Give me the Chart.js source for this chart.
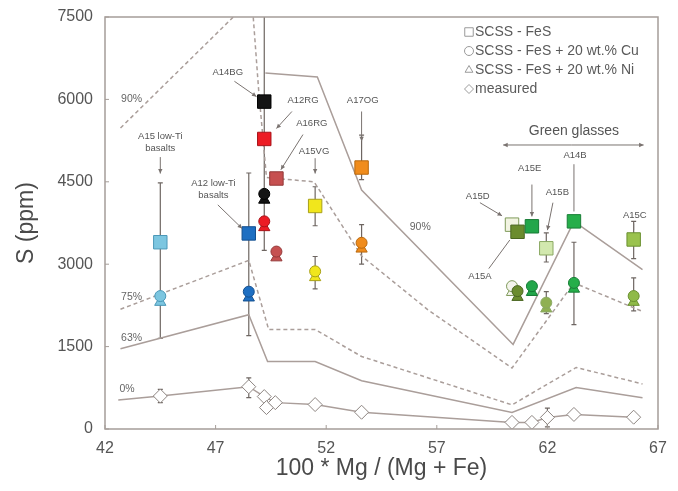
<!DOCTYPE html>
<html>
<head>
<meta charset="utf-8">
<script src="https://cdn.jsdelivr.net/npm/chart.js@4.4.1/dist/chart.umd.min.js"></script>
<style>
    html, body { margin: 0; padding: 0; background: #fff; }
</style>
</head>
<body>
<canvas id="sChart" width="678" height="491"></canvas>
<script>
// ============================================
// DATA
// ============================================
const sampleNames = ['A15 low-Ti basalts', 'A12 low-Ti basalts', 'A14BG', 'A12RG', 'A16RG', 'A15VG', 'A17OG', 'A15D', 'A15A', 'A15E', 'A15B', 'A14B', 'A15C']
const sampleMg = [44.5, 48.5, 49.2, 49.2, 49.75, 51.5, 53.6, 60.4, 60.65, 61.3, 61.95, 63.2, 65.9]
const scssFeS  = [3400, 3560, 5960, 5280, 4560, 4060, 4760, 3720, 3590, 3690, 3290, 3780, 3450]
const scssCu   = [2420, 2500, 4280, 3780, 3230, 2870, 3390, 2600, 2510, 2600, 2300, 2660, 2420]
const scssNi   = [2310, 2390, 4170, 3670, 3120, 2760, 3280, 2490, 2400, 2490, 2190, 2550, 2310]

const sqErrLo = [1650, 1700, 3250, null, null, 3700, 4540, null, null, null, 3040, null, 3100]
const sqErrHi = [4480, 4660, 8600, null, null, 4410, 5350, null, null, null, 3570, null, 3780]
const cuErrLo = [null, null, null, null, null, 2550, 3000, null, null, null, 2100, 1900, 2150]
const cuErrHi = [null, null, null, null, null, 3140, 3720, null, null, null, 2500, 3400, 2750]

const measMg    = [44.5, 48.5, 49.2, 49.3, 49.7, 51.5, 53.6, 60.4, 61.3, 62.0, 63.2, 65.9]
const measS     = [600, 770, 590, 390, 480, 445, 305, 120, 120, 210, 265, 215]
const measErrLo = [480, 570, null, null, null, null, null, null, null, 40, null, null]
const measErrHi = [720, 930, null, null, null, null, null, null, null, 380, null, null]

// model curves
const line90SolidMg = [49.25, 51.6, 53.6, 60.45, 63.2, 66.3]
const line90SolidS  = [6480, 6410, 4350, 1540, 3780, 2900]
const line90DashMg  = [42.7, 48.64, 48.95, 49.3, 49.75, 51.45, 53.6, 56.6, 60.4, 63.2, 66.3]
const line90DashS   = [5480, 7833, 6150, 4580, 4560, 4500, 3150, 2170, 1110, 2660, 2140]
const line75Mg = [42.7, 48.5, 49.4, 51.5, 53.6, 60.4, 63.3, 66.3]
const line75S  = [2180, 3070, 1810, 1810, 1320, 440, 1120, 820]
const line63Mg = [42.7, 48.5, 49.35, 51.5, 53.6, 60.4, 63.3, 66.3]
const line63S  = [1460, 2080, 1230, 1230, 880, 300, 755, 570]
const line0Mg  = [42.6, 44.5, 48.5, 49.2, 49.7, 51.5, 53.6, 60.4, 61.3, 62.0, 63.2, 65.9]
const line0S   = [530, 600, 770, 590, 480, 445, 305, 120, 120, 210, 265, 215]

const xTicks = [42, 47, 52, 57, 62, 67]
const yTicks = [0, 1500, 3000, 4500, 6000, 7500]

// ============================================
// STYLE
// ============================================
const FONT = "'Liberation Sans', Arial, sans-serif"
const sampleFill = ['#7cc6e0', '#1e6fc2', '#141414', '#ec1c24', '#c65050', '#f1e61c', '#f08c1c', '#f2f4e2', '#6b8c2e', '#22a64a', '#d2e8ae', '#26ae4a', '#9ac24e']
const sampleEdge = ['#4b98b8', '#134f8f', '#000000', '#a8141a', '#933838', '#a8a018', '#b8680e', '#7f9a5a', '#4a6620', '#157a34', '#8aa862', '#187e36', '#6a9030']
const cuFill = ['#7cc6e0', '#1e6fc2', '#141414', '#ec1c24', '#c65050', '#f1e61c', '#f08c1c', '#f4f4ec', '#6b8c2e', '#22a64a', '#8fb052', '#26ae4a', '#8fba48']
const lineGrey = '#aa9e9a'

// annotation labels (data units)
const notes = [
    { text: ['A15 low-Ti', 'basalts'], at: [44.5, 5330], from: [44.5, 4950], to: [44.5, 4650] },
    { text: ['A12 low-Ti', 'basalts'], at: [46.9, 4480], from: [47.1, 4080], to: [48.2, 3650] },
    { text: ['A14BG'], at: [47.55, 6500], from: [47.85, 6330], to: [48.85, 6050] },
    { text: ['A12RG'], at: [50.95, 5990], from: [50.45, 5780], to: [49.75, 5470] },
    { text: ['A16RG'], at: [51.35, 5560], from: [50.95, 5360], to: [49.95, 4720] },
    { text: ['A15VG'], at: [51.45, 5060], from: [51.5, 4930], to: [51.5, 4650] },
    { text: ['A17OG'], at: [53.65, 5990], from: [53.6, 5780], to: [53.6, 5240] },
    { text: ['A15D'], at: [58.85, 4230], from: [58.95, 4120], to: [59.95, 3880] },
    { text: ['A15E'], at: [61.2, 4750], from: [61.3, 4450], to: [61.3, 3870] },
    { text: ['A15B'], at: [62.45, 4300], from: [62.25, 4120], to: [62.0, 3620] },
    { text: ['A14B'], at: [63.25, 4990], from: [63.2, 4820], to: [63.2, 3960], plain: true },
    { text: ['A15C'], at: [65.95, 3880], from: [65.9, 3740], to: [65.9, 3620], plain: true },
    { text: ['A15A'], at: [58.95, 2780], from: [59.35, 2920], to: [60.3, 3440], plain: true }
]
const pctLabels = [
    { text: '90%', at: [43.2, 6010] },
    { text: '90%', at: [56.25, 3680] },
    { text: '75%', at: [43.2, 2410] },
    { text: '63%', at: [43.2, 1660] },
    { text: '0%',  at: [43.0, 720] }
]
const legendRows = [
    ['rect', 'SCSS - FeS'],
    ['circle', 'SCSS - FeS + 20 wt.% Cu'],
    ['triangle', 'SCSS - FeS + 20 wt.% Ni'],
    ['rectRot', 'measured']
]

const xy = (xs, ys) => xs.map((x, i) => ({ x, y: ys[i] }))

// ============================================
// DRAWING HELPERS
// ============================================
function arrow(ctx, x1, y1, x2, y2, head) {
    ctx.beginPath()
    ctx.moveTo(x1, y1)
    ctx.lineTo(x2, y2)
    ctx.stroke()
    if (!head) return
    const ang = Math.atan2(y2 - y1, x2 - x1)
    ctx.beginPath()
    ctx.moveTo(x2, y2)
    ctx.lineTo(x2 - 5 * Math.cos(ang - 0.45), y2 - 5 * Math.sin(ang - 0.45))
    ctx.lineTo(x2 - 5 * Math.cos(ang + 0.45), y2 - 5 * Math.sin(ang + 0.45))
    ctx.closePath()
    ctx.fill()
}

const extras = {
    id: 'extras',
    beforeDatasetsDraw(chart) {
        const { ctx, chartArea: a, scales: { x, y } } = chart
        ctx.save()
        ctx.beginPath()
        ctx.rect(a.left, a.top, a.right - a.left, a.bottom - a.top)
        ctx.clip()
        ctx.strokeStyle = '#6e6662'
        ctx.lineWidth = 1.2
        const bar = (m, lo, hi) => {
            if (lo == null || hi == null) return
            const px = x.getPixelForValue(m)
            const p1 = y.getPixelForValue(lo), p2 = y.getPixelForValue(hi)
            ctx.beginPath()
            ctx.moveTo(px, p1); ctx.lineTo(px, p2)
            ctx.moveTo(px - 2.5, p1); ctx.lineTo(px + 2.5, p1)
            ctx.moveTo(px - 2.5, p2); ctx.lineTo(px + 2.5, p2)
            ctx.stroke()
        }
        sampleMg.forEach((m, i) => {
            bar(m, sqErrLo[i], sqErrHi[i])
            bar(m, cuErrLo[i], cuErrHi[i])
        })
        measMg.forEach((m, i) => bar(m, measErrLo[i], measErrHi[i]))
        ctx.restore()
    },
    afterDatasetsDraw(chart) {
        const { ctx, chartArea: a, scales: { x, y } } = chart
        const px = v => x.getPixelForValue(v)
        const py = v => y.getPixelForValue(v)
        ctx.save()

        // frame + inward ticks
        ctx.strokeStyle = '#a59d99'
        ctx.lineWidth = 1.5
        ctx.strokeRect(a.left, a.top, a.right - a.left, a.bottom - a.top)
        ctx.lineWidth = 1
        ctx.beginPath()
        xTicks.forEach(t => { ctx.moveTo(px(t), a.bottom); ctx.lineTo(px(t), a.bottom - 4) })
        yTicks.forEach(t => { ctx.moveTo(a.left, py(t)); ctx.lineTo(a.left + 4, py(t)) })
        ctx.stroke()

        // sample labels
        ctx.strokeStyle = '#7a7370'
        ctx.fillStyle = '#7a7370'
        ctx.lineWidth = 1
        notes.forEach(n => arrow(ctx, px(n.from[0]), py(n.from[1]), px(n.to[0]), py(n.to[1]), !n.plain))
        ctx.fillStyle = '#555'
        ctx.font = `9.5px ${FONT}`
        ctx.textAlign = 'center'
        ctx.textBaseline = 'middle'
        notes.forEach(n => n.text.forEach((t, k) => ctx.fillText(t, px(n.at[0]), py(n.at[1]) + k * 12)))

        ctx.font = `10.5px ${FONT}`
        ctx.fillStyle = '#666'
        pctLabels.forEach(l => ctx.fillText(l.text, px(l.at[0]), py(l.at[1])))

        // green glasses range
        ctx.font = `14px ${FONT}`
        ctx.fillStyle = '#555'
        ctx.fillText('Green glasses', px(63.2), py(5420))
        ctx.strokeStyle = '#7a7370'
        ctx.fillStyle = '#7a7370'
        arrow(ctx, px(63.1), py(5170), px(60.0), py(5170), true)
        arrow(ctx, px(63.1), py(5170), px(66.35), py(5170), true)

        // legend
        ctx.textAlign = 'left'
        ctx.font = `14px ${FONT}`
        legendRows.forEach(([style, label], i) => {
            const ly = a.top + 15 + i * 19
            const lx = a.right - 183
            ctx.strokeStyle = '#9a9a9a'
            ctx.fillStyle = '#fff'
            ctx.lineWidth = 1
            Chart.helpers.drawPoint(ctx, { pointStyle: style, radius: style === 'rect' ? 6 : 4.5, borderWidth: 1 }, lx - 6, ly)
            ctx.fillStyle = '#5a5a5a'
            ctx.fillText(label, lx, ly)
        })
        ctx.restore()
    }
}

// ============================================
// CHART
// ============================================
function modelLine(xs, ys, dash) {
    return {
        data: xy(xs, ys),
        showLine: true,
        borderColor: lineGrey,
        borderWidth: 1.5,
        borderDash: dash ? [4, 3] : [],
        pointRadius: 0,
        order: 10
    }
}

function init() {
    const ctx = document.getElementById('sChart').getContext('2d')
    new Chart(ctx, {
        type: 'scatter',
        data: {
            datasets: [
                modelLine(line90DashMg, line90DashS, true),
                modelLine(line90SolidMg, line90SolidS, false),
                modelLine(line75Mg, line75S, true),
                modelLine(line63Mg, line63S, false),
                modelLine(line0Mg, line0S, false),
                {
                    label: 'measured',
                    data: xy(measMg, measS),
                    pointStyle: 'rectRot',
                    pointRadius: 7,
                    pointBackgroundColor: '#ffffff',
                    pointBorderColor: '#8c8480',
                    pointBorderWidth: 1,
                    order: 4
                },
                {
                    label: 'SCSS - FeS + 20 wt.% Ni',
                    data: xy(sampleMg, scssNi),
                    pointStyle: 'triangle',
                    pointRadius: 6.5,
                    pointBackgroundColor: cuFill,
                    pointBorderColor: sampleEdge,
                    pointBorderWidth: 1,
                    order: 3
                },
                {
                    label: 'SCSS - FeS + 20 wt.% Cu',
                    data: xy(sampleMg, scssCu),
                    pointStyle: 'circle',
                    pointRadius: 5.5,
                    pointBackgroundColor: cuFill,
                    pointBorderColor: sampleEdge,
                    pointBorderWidth: 1,
                    order: 2
                },
                {
                    label: 'SCSS - FeS',
                    data: xy(sampleMg, scssFeS),
                    pointStyle: 'rect',
                    pointRadius: 9.5,
                    pointBackgroundColor: sampleFill,
                    pointBorderColor: sampleEdge,
                    pointBorderWidth: 1,
                    order: 1
                }
            ]
        },
        options: {
            responsive: false,
            animation: false,
            events: [],
            layout: { padding: { left: 5, right: 20, top: 17, bottom: 0 } },
            plugins: {
                legend: { display: false },
                tooltip: { enabled: false }
            },
            scales: {
                x: {
                    type: 'linear',
                    min: 42,
                    max: 67,
                    afterBuildTicks: s => { s.ticks = xTicks.map(v => ({ value: v })) },
                    ticks: { color: '#555', font: { family: FONT, size: 16 }, padding: 10, callback: v => String(v) },
                    grid: { display: false, drawTicks: false },
                    border: { display: false },
                    title: {
                        display: true,
                        text: '100 * Mg / (Mg + Fe)',
                        color: '#4a4a4a',
                        font: { family: FONT, size: 23 },
                        padding: { top: 0, bottom: 9 }
                    },
                    afterFit: s => { s.height = 62 }
                },
                y: {
                    min: 0,
                    max: 7500,
                    afterBuildTicks: s => { s.ticks = yTicks.map(v => ({ value: v })) },
                    ticks: { color: '#555', font: { family: FONT, size: 16 }, padding: 12, callback: v => String(v) },
                    grid: { display: false, drawTicks: false },
                    border: { display: false },
                    title: {
                        display: true,
                        text: 'S (ppm)',
                        color: '#4a4a4a',
                        font: { family: FONT, size: 23 },
                        padding: { top: 8, bottom: 0 }
                    },
                    afterFit: s => { s.width = 100; s.paddingTop = 0; s.paddingBottom = 0 }
                }
            }
        },
        plugins: [extras]
    })
}

document.addEventListener('DOMContentLoaded', init)
</script>
</body>
</html>
